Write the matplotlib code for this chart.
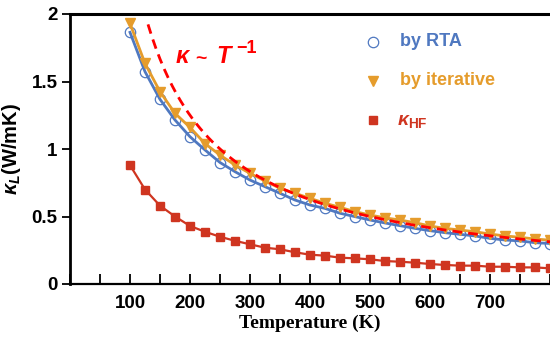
import numpy as np
import matplotlib
matplotlib.use("Agg")
import matplotlib.pyplot as plt
from matplotlib.ticker import MultipleLocator

plt.rcParams["font.family"] = ["Liberation Sans", "DejaVu Sans"]
plt.rcParams["mathtext.fontset"] = "custom"
plt.rcParams["mathtext.rm"] = "Liberation Sans:bold"
plt.rcParams["mathtext.bf"] = "Liberation Sans:bold"
plt.rcParams["mathtext.it"] = "Liberation Sans:bold:italic"

# Lattice thermal conductivity vs temperature
temps = [100, 125, 150, 175, 200, 225, 250, 275, 300, 325, 350, 375, 400, 425,
         450, 475, 500, 525, 550, 575, 600, 625, 650, 675, 700, 725, 750, 775, 800]

kappa_rta = [1.864, 1.573, 1.368, 1.215, 1.091, 0.993, 0.900, 0.832, 0.770, 0.721,
             0.672, 0.622, 0.585, 0.560, 0.524, 0.499, 0.474, 0.452, 0.432, 0.412,
             0.395, 0.380, 0.368, 0.356, 0.338, 0.326, 0.319, 0.306, 0.300]

kappa_iter = [1.930, 1.634, 1.425, 1.264, 1.160, 1.040, 0.955, 0.881, 0.820, 0.763,
              0.709, 0.672, 0.635, 0.598, 0.568, 0.536, 0.511, 0.490, 0.474, 0.454,
              0.430, 0.412, 0.400, 0.387, 0.370, 0.356, 0.346, 0.333, 0.325]

kappa_hf = [0.880, 0.700, 0.580, 0.500, 0.430, 0.387, 0.350, 0.320, 0.294, 0.269,
            0.257, 0.235, 0.217, 0.210, 0.195, 0.190, 0.183, 0.170, 0.165, 0.158,
            0.148, 0.141, 0.136, 0.136, 0.128, 0.128, 0.123, 0.123, 0.116]

# 1/T guide curve
guide_coef = 250.0
guide_t = np.linspace(130, 800, 200)

c_rta = "#4f78c0"
c_iter = "#e59c2c"
c_hf = "#cf3520"
c_guide = "#ff0000"

fig = plt.figure(figsize=(5.5, 3.42), dpi=100)
ax = fig.add_axes([70 / 550, 1 - 284 / 342, 480 / 550, 270 / 342])

ax.plot(temps, kappa_rta, color=c_rta, lw=2.0, zorder=2)
ax.plot(temps, kappa_rta, ls="none", marker="o", ms=7.5, mfc="none",
        mec=c_rta, mew=0.9, zorder=3)
ax.plot(temps, kappa_iter, color=c_iter, lw=2.0, marker="v", ms=7.5,
        mfc=c_iter, mec=c_iter, zorder=4)
ax.plot(temps, kappa_hf, color=c_hf, lw=1.6, marker="s", ms=5.8,
        mfc=c_hf, mec=c_hf, zorder=4)
ax.plot(guide_t, guide_coef / guide_t, color=c_guide, lw=2.0, ls=(0, (3.5, 2.2)),
        zorder=5)

ax.set_xlim(0, 800)
ax.set_ylim(0, 2)
ax.xaxis.set_minor_locator(MultipleLocator(50))
ax.set_xticks(range(100, 800, 100))
ax.set_xticklabels([str(t) for t in range(100, 800, 100)])
ax.set_yticks([0, 0.5, 1, 1.5, 2])
ax.set_yticklabels(["0", "0.5", "1", "1.5", "2"])

ax.tick_params(axis="x", which="both", direction="in", length=7, width=1.3,
               pad=8, labelsize=13.5)
ax.tick_params(axis="y", which="both", direction="out", length=6, width=1.3,
               pad=3, labelsize=13.5)
for lab in ax.get_xticklabels() + ax.get_yticklabels():
    lab.set_fontweight("bold")

ax.spines["right"].set_visible(False)
ax.spines["left"].set_linewidth(2.0)
ax.spines["top"].set_linewidth(2.2)
ax.spines["bottom"].set_linewidth(1.6)

ax.set_xlabel("Temperature (K)", family="Liberation Serif", fontweight="bold",
              fontsize=14, labelpad=2)
ax.set_ylabel(r"$\kappa_L$(W/mK)", fontweight="bold", fontsize=14.5, labelpad=6)

# legend drawn by hand
leg_x_mark = 0.632
leg_x_text = 0.687
leg_rows = [(0.897, "by RTA", c_rta, "o"), (0.752, "by iterative", c_iter, "v"),
            (0.607, None, c_hf, "s")]
for y, txt, col, mk in leg_rows:
    if mk == "o":
        ax.plot([leg_x_mark], [y], transform=ax.transAxes, marker="o", ms=7.5,
                mfc="none", mec=col, mew=0.9, clip_on=False)
    elif mk == "v":
        ax.plot([leg_x_mark], [y], transform=ax.transAxes, marker="v", ms=7.5,
                mfc=col, mec=col, clip_on=False)
    else:
        ax.plot([leg_x_mark], [y], transform=ax.transAxes, marker="s", ms=5.8,
                mfc=col, mec=col, clip_on=False)
    if txt:
        ax.text(leg_x_text, y, txt, transform=ax.transAxes, color=col,
                fontsize=13, fontweight="bold", va="center", ha="left")
ax.text(leg_x_text - 0.005, 0.60, r"$\kappa_{\mathrm{HF}}$",
        transform=ax.transAxes, color=c_hf, fontsize=14, va="center", ha="left")

# kappa ~ T^-1 annotation, pieces placed separately for wider spacing
note_kw = dict(transform=ax.transAxes, color=c_guide, fontweight="bold",
               ha="left")
ax.text(0.219, 0.8185, r"$\kappa$", fontsize=17, va="baseline", **note_kw)
ax.text(0.261, 0.833, "~", fontsize=14, va="center", **note_kw)
ax.text(0.304, 0.8185, "T", fontsize=17, fontstyle="italic", va="baseline",
        **note_kw)
ax.text(0.347, 0.857, "\u22121", fontsize=13, va="baseline", **note_kw)

fig.savefig("out.png", dpi=100)
